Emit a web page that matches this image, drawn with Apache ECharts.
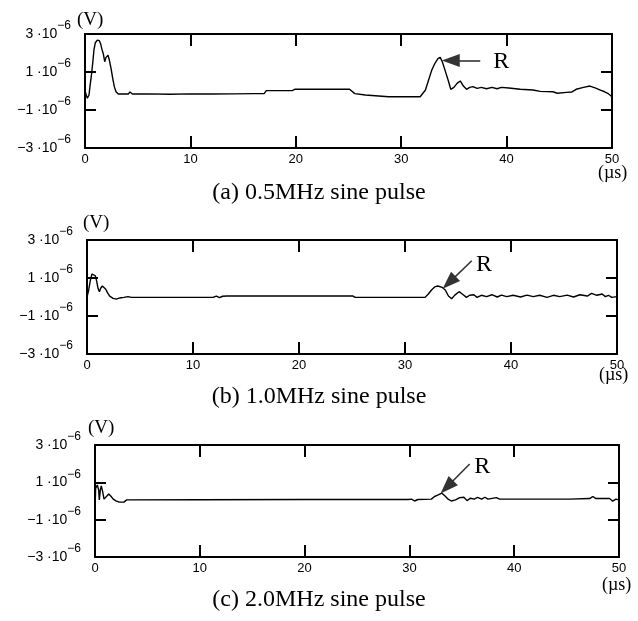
<!DOCTYPE html>
<html>
<head>
<meta charset="utf-8">
<script src="https://cdn.jsdelivr.net/npm/echarts@6/dist/echarts.min.js"></script>
<style>html,body{margin:0;padding:0;background:#fff;}#c{width:638px;height:621px;}</style>
</head>
<body>
<div id="c"></div>
<script>
// time in µs, voltage in units of 1e-6 V
const tA = [0.0,0.16,0.22,0.38,0.47,0.63,0.73,0.85,0.98,1.17,1.36,1.49,1.61,1.74,1.87,1.99,2.18,2.31,2.47,2.63,2.78,2.94,3.16,4.1,4.27,4.5,6.0,8.0,10.0,12.0,14.0,16.0,17.0,17.2,19.7,19.9,25.1,25.6,26.6,28.8,31.8,32.3,32.6,32.9,33.2,33.5,33.7,33.9,34.2,34.5,34.7,35.0,35.3,35.6,35.9,36.2,36.5,36.8,37.2,37.6,38.1,38.6,39.1,39.5,40.2,40.3,41.3,42.5,43.2,44.4,44.8,45.7,46.2,46.6,47.3,47.9,48.4,48.9,49.3,49.6,50.0];
const vA = [0.0,0.05,-0.38,-0.21,0.23,0.93,1.46,2.16,2.54,2.68,2.65,2.47,2.19,1.95,1.54,1.77,1.88,1.63,1.19,0.67,0.23,-0.04,-0.16,-0.16,-0.05,-0.16,-0.15,-0.17,-0.15,-0.16,-0.15,-0.14,-0.14,0.02,0.03,0.09,0.09,-0.14,-0.21,-0.3,-0.3,0.05,0.58,1.1,1.46,1.72,1.77,1.54,1.02,0.49,0.09,0.19,0.4,0.53,0.26,0.09,0.19,0.23,0.14,0.19,0.12,0.19,0.12,0.19,0.16,0.09,0.09,0.05,-0.02,-0.04,-0.12,-0.07,-0.05,0.09,0.19,0.26,0.16,0.05,-0.04,-0.12,-0.3];

const tB = [0.0,0.09,0.16,0.32,0.47,0.63,0.79,0.92,1.04,1.17,1.29,1.45,1.61,1.77,1.93,2.14,2.46,2.78,3.09,3.47,3.87,4.19,8.0,11.9,12.2,12.5,12.8,13.2,25.1,25.3,31.9,32.2,32.5,32.8,33.1,33.5,33.8,34.1,34.4,34.7,35.1,35.4,35.8,36.1,36.5,36.8,37.2,37.7,38.2,38.7,39.1,39.6,40.2,40.9,41.5,42.1,42.7,43.4,44.0,44.6,45.3,45.9,46.5,47.2,47.6,48.1,48.6,48.9,49.2,49.5,50.0];
const vB = [0.0,0.05,0.37,0.89,1.21,1.28,1.11,0.81,0.46,0.28,0.46,0.58,0.6,0.41,0.23,0.05,-0.07,-0.11,-0.05,-0.02,0.02,-0.02,-0.02,-0.02,0.05,-0.03,0.04,0.05,0.05,-0.02,-0.02,0.16,0.37,0.53,0.58,0.51,0.37,0.05,-0.09,0.1,0.28,0.16,-0.02,0.09,0.12,-0.02,0.09,0.02,0.12,0.0,0.1,0.02,0.09,0.0,0.1,0.02,0.09,-0.02,0.09,0.02,0.1,0.0,0.12,0.05,0.19,0.09,0.16,0.02,0.09,-0.02,0.02];

const tC = [0.03,0.06,0.22,0.35,0.41,0.51,0.6,0.73,0.86,1.05,1.31,1.5,1.74,2.0,2.32,2.76,3.02,10.0,20.0,29.9,30.0,30.2,30.5,30.8,32.1,32.4,32.7,33.1,33.4,33.7,34.0,34.4,34.8,35.2,35.5,35.8,36.2,36.5,36.9,37.2,37.5,38.3,38.6,45.0,45.1,45.3,47.2,47.5,47.8,49.1,49.4,49.7,50.0];
const vC = [0.06,0.68,0.86,0.59,0.06,0.59,0.81,0.5,0.1,0.2,0.38,0.27,0.1,0.01,-0.06,-0.06,0.06,0.07,0.08,0.08,0.02,0.1,0.0,0.08,0.1,0.24,0.31,0.42,0.27,0.1,0.0,0.06,0.18,0.2,0.02,0.15,0.1,0.2,0.1,0.2,0.1,0.18,0.1,0.1,0.02,0.1,0.13,0.24,0.13,0.13,-0.01,0.1,0.06];

// arrow annotations: [tail, head] in data coords, and "R" label position
const arrowA = [[37.5, 1.6], [34.7, 1.6]];
const arrowB = [[36.3, 1.91], [34.16, 0.76]];
const arrowC = [[35.75, 1.98], [33.58, 0.75]];
const labelRA = [39.5, 1.55];
const labelRB = [37.46, 1.68];
const labelRC = [36.94, 1.85];

const captions = ['(a) 0.5MHz sine pulse', '(b) 1.0MHz sine pulse', '(c) 2.0MHz sine pulse'];
const xTicks = { min: 0, max: 50, interval: 10 };
const yTicks = { min: -3, max: 3, interval: 2 };

const grids = [
  { left: 85, right: 26, top: 34, height: 114 },
  { left: 87, right: 21, top: 240, height: 114 },
  { left: 95, right: 19, top: 445, height: 112 }
];

const SANS = 'Liberation Sans, Arial, sans-serif';
const SERIF = 'Liberation Serif, Times New Roman, serif';

function fmtY(v) {
  const n = Math.round(v);
  const s = n < 0 ? '\u2212' + Math.abs(n) : String(n);
  return '{b|' + s + ' \u00b710}{s|\u22126}';
}

const xAxes = [], yAxes = [];
grids.forEach((g, i) => {
  const line = { show: true, onZero: false, lineStyle: { color: '#000', width: 2 } };
  xAxes.push({ gridIndex: i, type: 'value', position: 'bottom', min: xTicks.min, max: xTicks.max, interval: xTicks.interval,
    axisLine: line, axisTick: { inside: true, length: 12, lineStyle: { color: '#000', width: 2 } },
    axisLabel: { margin: 5, fontSize: 13, color: '#000', fontFamily: SANS }, splitLine: { show: false } });
  xAxes.push({ gridIndex: i, type: 'value', position: 'top', min: xTicks.min, max: xTicks.max, interval: xTicks.interval,
    axisLine: line, axisTick: { inside: true, length: 12, lineStyle: { color: '#000', width: 2 } },
    axisLabel: { show: false }, splitLine: { show: false } });
  yAxes.push({ gridIndex: i, type: 'value', position: 'left', min: yTicks.min, max: yTicks.max, interval: yTicks.interval,
    axisLine: line, axisTick: { inside: true, length: 11, lineStyle: { color: '#000', width: 2 } },
    axisLabel: { margin: 14, color: '#000', formatter: fmtY,
      rich: { b: { fontSize: 14, fontFamily: SANS, color: '#000' },
              s: { fontSize: 12, fontFamily: SANS, color: '#000', padding: [0, 0, 16, 0] } } },
    splitLine: { show: false } });
  yAxes.push({ gridIndex: i, type: 'value', position: 'right', min: yTicks.min, max: yTicks.max, interval: yTicks.interval,
    axisLine: line, axisTick: { inside: true, length: 11, lineStyle: { color: '#000', width: 2 } },
    axisLabel: { show: false }, splitLine: { show: false } });
});

function zip(t, v) { return t.map((x, k) => [x, v[k]]); }

function mkSeries(i, t, v, arrow, lab) {
  return {
    type: 'line', xAxisIndex: i * 2, yAxisIndex: i * 2, data: zip(t, v),
    showSymbol: false, symbol: 'none', animation: false,
    lineStyle: { color: '#000', width: 1.4 },
    markLine: {
      silent: true, animation: false, symbol: ['none', 'triangle'], symbolSize: [13, 18],
      lineStyle: { color: '#333', width: 1.6, type: 'solid' }, label: { show: false },
      data: [[{ coord: arrow[0] }, { coord: arrow[1] }]]
    },
    markPoint: {
      silent: true, animation: false, symbol: 'circle', symbolSize: 0,
      label: { show: true, position: 'inside', formatter: 'R', color: '#000', fontSize: 24, fontFamily: SERIF },
      data: [{ coord: lab }]
    }
  };
}

const graphics = [];
const vPos = [[90, 22], [96, 225], [101, 430]];
const usPos = [[614, 174], [615, 376], [618, 586]];
const capY = [195, 399, 602];
for (let i = 0; i < 3; i++) {
  graphics.push({ type: 'text', left: vPos[i][0] - 13, top: vPos[i][1] - 11,
    style: { text: '(V)', font: '19px ' + SERIF, fill: '#000' } });
  graphics.push({ type: 'text', left: usPos[i][0] - 16, top: usPos[i][1] - 10,
    style: { text: '(\u00b5s)', font: '18px ' + SERIF, fill: '#000' } });
  graphics.push({ type: 'text', left: 'center', top: capY[i] - 14,
    style: { text: captions[i], font: '24px ' + SERIF, fill: '#000' } });
}

const chart = echarts.init(document.getElementById('c'), null, { renderer: 'canvas' });
chart.setOption({
  animation: false,
  backgroundColor: '#fff',
  grid: grids,
  xAxis: xAxes,
  yAxis: yAxes,
  series: [
    mkSeries(0, tA, vA, arrowA, labelRA),
    mkSeries(1, tB, vB, arrowB, labelRB),
    mkSeries(2, tC, vC, arrowC, labelRC)
  ],
  graphic: graphics
});
</script>
</body>
</html>
